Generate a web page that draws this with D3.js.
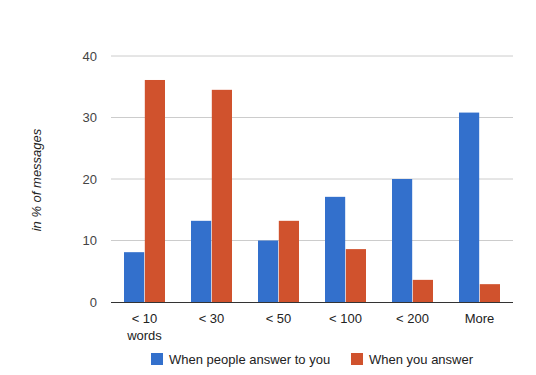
<!DOCTYPE html>
<meta charset="utf-8">
<style>
body { margin: 0; background: #fff; }
text { font-family: "Liberation Sans", Arial, sans-serif; }
.grid line { stroke: #ccc; }
</style>
<svg width="536" height="375"></svg>
<script src="https://d3js.org/d3.v7.min.js"></script>
<script>

var categories = ["< 10|words", "< 30", "< 50", "< 100", "< 200", "More"];
var seriesNames = ["When people answer to you", "When you answer"];
var answerToYou = [8.1, 13.2, 10.0, 17.1, 20.0, 30.8];
var youAnswer = [36.1, 34.5, 13.2, 8.6, 3.6, 2.9];
var yTicks = [0, 10, 20, 30, 40];
var colors = ["#3370cc", "#d0522d"];

var svg = d3.select("svg"),
    margin = {left: 111, right: 23, top: 56, bottom: 73},
    width = 536 - margin.left - margin.right,
    height = 375 - margin.top - margin.bottom;

var x = d3.scaleBand()
    .domain(categories)
    .range([0, width]);

var x1 = d3.scaleBand()
    .domain([0, 1])
    .range([x.bandwidth() / 2 - 20.5, x.bandwidth() / 2 + 20.5])
    .paddingInner(0.03);

var y = d3.scaleLinear()
    .domain([0, 40])
    .range([height, 0]);

var g = svg.append("g")
    .attr("transform", "translate(" + margin.left + "," + margin.top + ")");

g.append("g")
    .attr("class", "grid")
  .selectAll("line")
  .data(yTicks.slice(1))
  .enter().append("line")
    .attr("x1", 0)
    .attr("x2", width)
    .attr("y1", function(d) { return y(d); })
    .attr("y2", function(d) { return y(d); })
    .attr("stroke-width", 1);

g.selectAll(".ylab")
  .data(yTicks)
  .enter().append("text")
    .attr("x", -14)
    .attr("y", function(d) { return y(d); })
    .attr("dy", "0.35em")
    .attr("text-anchor", "end")
    .attr("fill", "#444")
    .attr("font-size", 13)
    .text(function(d) { return d; });

var groups = g.selectAll(".cat")
  .data(categories)
  .enter().append("g")
    .attr("transform", function(d) { return "translate(" + x(d) + ",0)"; });

groups.selectAll("rect")
  .data(function(d, i) { return [answerToYou[i], youAnswer[i]]; })
  .enter().append("rect")
    .attr("x", function(d, j) { return x1(j); })
    .attr("width", x1.bandwidth())
    .attr("y", function(d) { return y(d); })
    .attr("height", function(d) { return height - y(d); })
    .attr("fill", function(d, j) { return colors[j]; });

groups.append("text")
    .attr("x", x.bandwidth() / 2)
    .attr("y", height + 21)
    .attr("text-anchor", "middle")
    .attr("fill", "#222")
    .attr("font-size", 13)
  .selectAll("tspan")
  .data(function(d) { return d.split("|"); })
  .enter().append("tspan")
    .attr("x", x.bandwidth() / 2)
    .attr("dy", function(d, i) { return i ? 17 : 0; })
    .text(function(d) { return d; });

g.append("line")
    .attr("x1", 0)
    .attr("x2", width)
    .attr("y1", height + 0.5)
    .attr("y2", height + 0.5)
    .attr("stroke", "#333")
    .attr("stroke-width", 1);

svg.append("text")
    .attr("transform", "translate(41,180) rotate(-90)")
    .attr("text-anchor", "middle")
    .attr("font-style", "italic")
    .attr("font-size", 13)
    .attr("fill", "#222")
    .text("in % of messages");

var legendX = [151, 351];
var legend = svg.selectAll(".legend")
  .data(seriesNames)
  .enter().append("g")
    .attr("transform", function(d, i) { return "translate(" + legendX[i] + ",353)"; });

legend.append("rect")
    .attr("width", 12)
    .attr("height", 12)
    .attr("fill", function(d, i) { return colors[i]; });

legend.append("text")
    .attr("x", 18)
    .attr("y", 6)
    .attr("dy", "0.35em")
    .attr("font-size", 13)
    .attr("fill", "#222")
    .text(function(d) { return d; });

</script>
